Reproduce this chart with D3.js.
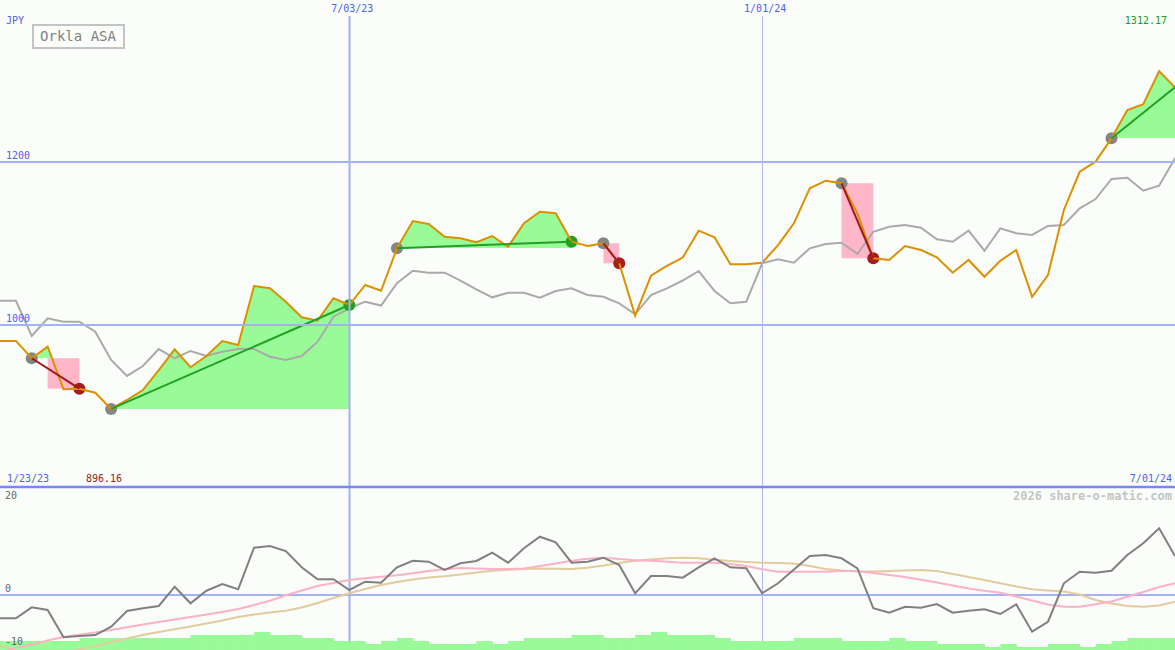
<!DOCTYPE html>
<html><head><meta charset="utf-8">
<script src="https://cdn.jsdelivr.net/npm/d3@7"></script>
<style>html,body{margin:0;padding:0;background:#fbfdfa;} svg{display:block;}</style>
</head><body><svg id="c" width="1175" height="650"></svg>
<script>
const dates = ["2023-01-30","2023-02-06","2023-02-13","2023-02-20","2023-02-27","2023-03-06","2023-03-13","2023-03-20","2023-03-27","2023-04-03","2023-04-10","2023-04-17","2023-04-24","2023-05-01","2023-05-08","2023-05-15","2023-05-22","2023-05-29","2023-06-05","2023-06-12","2023-06-19","2023-06-26","2023-07-03","2023-07-10","2023-07-17","2023-07-24","2023-07-31","2023-08-07","2023-08-14","2023-08-21","2023-08-28","2023-09-04","2023-09-11","2023-09-18","2023-09-25","2023-10-02","2023-10-09","2023-10-16","2023-10-23","2023-10-30","2023-11-06","2023-11-13","2023-11-20","2023-11-27","2023-12-04","2023-12-11","2023-12-18","2023-12-25","2024-01-01","2024-01-08","2024-01-15","2024-01-22","2024-01-29","2024-02-05","2024-02-12","2024-02-19","2024-02-26","2024-03-04","2024-03-11","2024-03-18","2024-03-25","2024-04-01","2024-04-08","2024-04-15","2024-04-22","2024-04-29","2024-05-06","2024-05-13","2024-05-20","2024-05-27","2024-06-03","2024-06-10","2024-06-17","2024-06-24","2024-07-01"];
const price = [980,980,958.6,972.9,920.4,921.1,916.2,896.16,907.2,919.5,944.1,969.6,947.5,961.4,979.9,974.9,1047.6,1044.8,1028.3,1009.1,1004.9,1032.5,1024.2,1048.9,1041.8,1094.1,1127.7,1124,1108.4,1106.4,1101.5,1109.2,1096,1124.9,1139.2,1137.2,1102.2,1096.9,1100.2,1075.6,1011,1060.3,1072.3,1082.7,1115.8,1107.6,1074.4,1074.4,1076.2,1098.1,1124.9,1168,1177.4,1174.2,1137.2,1081.8,1079.7,1096.9,1092,1083,1064,1079.7,1059.1,1078.8,1092,1034.4,1061.2,1141.3,1188.4,1200.8,1229.6,1264.5,1271.5,1312.17,1292.4];
const compare = [1029.5,1029.5,986,1007.8,1003.7,1003.7,991.3,956.5,936.8,949.1,970,958.6,967.6,961.4,966.7,970,970,960.5,956.5,961.4,979,1009.8,1020.2,1028.3,1023.6,1051,1066.5,1064,1064,1054.2,1043.6,1033.7,1039.4,1039.4,1033.2,1041.5,1044.8,1036.5,1034.4,1026.3,1012.8,1036.5,1044.8,1054.4,1066.1,1041.5,1026.3,1028.3,1075.6,1080.5,1076.3,1094.1,1099.4,1101,1087.1,1114.5,1120.7,1122.8,1119.5,1105.2,1102.2,1115.8,1091.1,1118.7,1112.6,1110.5,1121.6,1122.8,1143.4,1154.8,1179.5,1181.1,1165,1171.2,1205];
const momentum = [-4.92,-4.92,-2.63,-3.19,-8.88,-8.6,-8.4,-6.67,-3.4,-2.83,-2.35,1.67,-1.79,0.83,2.23,1.13,9.79,10.15,9.1,5.71,3.21,3.21,0.98,2.71,2.5,5.71,7.08,6.88,5.15,6.54,7.02,8.75,6.67,9.67,12.08,10.92,6.67,6.88,7.71,6.19,0.29,3.9,3.9,3.54,5.71,7.58,5.71,5.5,0.29,2.38,5.27,8.06,8.27,7.58,5.5,-2.83,-3.75,-2.5,-2.71,-1.94,-3.75,-3.33,-3.04,-4.02,-2,-7.71,-5.63,2.38,4.79,4.58,5,8.27,10.71,13.83,8.06];
const signalPink = [-12.2,-11.1,-10.38,-9.54,-8.81,-8.33,-7.85,-7.35,-6.79,-6.23,-5.69,-5.17,-4.65,-4.13,-3.6,-2.98,-2.15,-1.25,-0.13,0.88,1.81,2.44,3.06,3.42,3.75,4.04,4.46,4.94,5.29,5.56,5.46,5.35,5.35,5.46,5.98,6.5,7.08,7.5,7.71,7.44,7.19,7.08,6.88,6.67,6.67,6.67,6.4,5.98,5.31,4.79,4.79,4.79,4.79,4.94,4.94,4.52,4.1,3.69,3.13,2.54,1.92,1.29,0.83,0.42,-0.38,-1.21,-2.04,-2.5,-2.5,-2,-1.42,-0.44,0.56,1.6,2.38];
const signalTan = [-10.58,-11.73,-12.15,-12.15,-11.94,-11.42,-10.69,-9.85,-9.13,-8.4,-7.77,-7.21,-6.63,-6,-5.38,-4.65,-4.13,-3.71,-3.33,-2.67,-1.73,-0.69,0.29,1.19,2.02,2.65,3.17,3.58,3.83,4.21,4.63,4.98,5.19,5.35,5.46,5.4,5.35,5.6,6.08,6.6,7.08,7.33,7.58,7.69,7.58,7.27,7.02,6.81,6.67,6.6,6.5,5.98,5.35,5.04,4.83,4.83,4.94,5.04,5.15,4.94,4.31,3.69,3.06,2.38,1.71,1.15,0.88,0.67,0.04,-1.1,-1.83,-2.35,-2.5,-2.25,-1.46];
const volume = [3,3,3,3,3,4,4,4,4,4,4,4,5,5,5,5,6,5,5,4,4,3,3,2,3,4,3,2,2,2,3,2,3,4,4,4,5,5,4,4,5,6,5,5,5,4,3,3,3,3,4,4,4,3,3,3,4,3,3,2,2,2,1,2,1,1,2,2,1,2,3,4,4,4,4];
// trades: entry index, exit index, index where the loss box starts, outcome
const tradeEntry = [2, 7, 25, 38, 53, 70];
const tradeExit = [5, 22, 36, 39, 55, 74];
const tradeLossFrom = [3, null, null, 38, 53, null];
const tradeOutcome = ["loss", "win", "win", "loss", "loss", "open"];
const priceTicks = [1000, 1200];
const dateTicks = ["2023-07-03", "2024-01-01"];
const dateTickLabels = ["7/03/23", "1/01/24"];
const lowerTicks = [20, 0, -10];
const title = "Orkla ASA";
const currency = "JPY";
const startLabel = "1/23/23", endLabel = "7/01/24";
const minLabel = "896.16", maxLabel = "1312.17";

const W = 1175, H = 650, MAINB = 487;
const parse = d3.utcParse("%Y-%m-%d");
const D = dates.map(parse);
const x = d3.scaleUtc().domain([D[0], D[D.length - 1]]).range([0, W]);
const y = d3.scaleLinear().domain([800, 1400]).range([MAINB, 0]);
const yl = d3.scaleLinear().domain([-10, 20]).range([642.7, 498.7]);
const yv = d3.scaleLinear().domain([0, 6]).range([H, 632]);

const svg = d3.select("#c");
const font = "'DejaVu Sans Mono', 'Liberation Mono', monospace";
const gridCol = "#a4b2f2";
svg.append("rect").attr("width", W).attr("height", H).attr("fill", "#fbfdfa");

const defs = svg.append("defs");
defs.append("clipPath").attr("id", "mainClip").append("rect").attr("x", 0).attr("y", 0).attr("width", W).attr("height", MAINB);
defs.append("clipPath").attr("id", "lowClip").append("rect").attr("x", 0).attr("y", MAINB + 2).attr("width", W).attr("height", H - MAINB - 2);

const idx = d3.range(dates.length);
const main = svg.append("g").attr("clip-path", "url(#mainClip)");

// green fills: price above entry level, between entry and exit
tradeEntry.forEach((e, k) => {
  const xe = tradeExit[k];
  const lvl = price[e];
  const cid = "tclip" + k;
  defs.append("clipPath").attr("id", cid).append("rect")
    .attr("x", x(D[e])).attr("y", 0).attr("width", x(D[xe]) - x(D[e])).attr("height", y(lvl));
  const seg = d3.range(e, xe + 1);
  main.append("path").datum(seg)
    .attr("clip-path", "url(#" + cid + ")")
    .attr("fill", "#98fb98")
    .attr("d", d3.area().x(i => x(D[i])).y0(y(lvl)).y1(i => y(price[i])));
});
// pink loss boxes
tradeEntry.forEach((e, k) => {
  if (tradeOutcome[k] !== "loss") return;
  const a = tradeLossFrom[k], b = tradeExit[k];
  main.append("rect")
    .attr("x", x(D[a])).attr("width", x(D[b]) - x(D[a]))
    .attr("y", y(price[e])).attr("height", y(price[b]) - y(price[e]))
    .attr("fill", "#ffb6c8");
});

// horizontal price grid
svg.selectAll(".hg").data(priceTicks).join("line")
  .attr("x1", 0).attr("x2", W).attr("y1", d => Math.round(y(d))).attr("y2", d => Math.round(y(d)))
  .attr("stroke", gridCol).attr("stroke-width", 2);
// vertical date grid
svg.selectAll(".vg").data(dateTicks).join("line")
  .attr("x1", d => Math.round(x(parse(d))) + 0.5).attr("x2", d => Math.round(x(parse(d))) + 0.5)
  .attr("y1", 16).attr("y2", H)
  .attr("stroke", (d, i) => i === 0 ? gridCol : "#b0b8ea")
  .attr("stroke-width", (d, i) => i === 0 ? 2 : 1);

// lower panel
const low = svg.append("g").attr("clip-path", "url(#lowClip)");
low.selectAll("rect").data(idx).join("rect")
  .attr("x", i => x(D[i]))
  .attr("width", i => (i < D.length - 1 ? x(D[i + 1]) - x(D[i]) : x(D[i]) - x(D[i - 1])) + 0.5)
  .attr("y", i => yv(volume[i])).attr("height", i => H - yv(volume[i]))
  .attr("fill", "#98fb98");
low.append("line").attr("x1", 0).attr("x2", W).attr("y1", Math.round(yl(0))).attr("y2", Math.round(yl(0)))
  .attr("stroke", gridCol).attr("stroke-width", 2);
const lowLine = arr => d3.line().x(i => x(D[i])).y(i => yl(arr[i]))(idx);
low.append("path").attr("d", lowLine(signalTan)).attr("fill", "none").attr("stroke", "#e2cb9c").attr("stroke-width", 2);
low.append("path").attr("d", lowLine(signalPink)).attr("fill", "none").attr("stroke", "#fbb2c6").attr("stroke-width", 2);
low.append("path").attr("d", lowLine(momentum)).attr("fill", "none").attr("stroke", "#808080").attr("stroke-width", 2);

// main lines
const mainLine = arr => d3.line().x(i => x(D[i])).y(i => y(arr[i]))(idx);
main.append("path").attr("d", mainLine(compare)).attr("fill", "none").attr("stroke", "#aaaaaa").attr("stroke-width", 2);

// markers
tradeEntry.forEach((e, k) => {
  main.append("circle").attr("cx", x(D[e])).attr("cy", y(price[e])).attr("r", 6).attr("fill", "#858585");
  if (tradeOutcome[k] !== "open") {
    const xe = tradeExit[k];
    main.append("circle").attr("cx", x(D[xe])).attr("cy", y(price[xe])).attr("r", 6)
      .attr("fill", tradeOutcome[k] === "win" ? "#22a022" : "#a61c1c");
  }
});
main.append("path").attr("d", mainLine(price)).attr("fill", "none").attr("stroke", "#dc9000").attr("stroke-width", 2);
// trade lines
tradeEntry.forEach((e, k) => {
  const xe = tradeExit[k];
  main.append("line")
    .attr("x1", x(D[e])).attr("y1", y(price[e])).attr("x2", x(D[xe])).attr("y2", y(price[xe]))
    .attr("stroke", tradeOutcome[k] === "loss" ? "#a01818" : "#22a022").attr("stroke-width", 2);
});

// bottom border of main panel
svg.append("line").attr("x1", 0).attr("x2", W).attr("y1", MAINB).attr("y2", MAINB)
  .attr("stroke", "#7888f0").attr("stroke-width", 2.5);

// texts
const txt = (s, tx, ty, col, anchor, size, weight) => svg.append("text")
  .attr("x", tx).attr("y", ty).attr("fill", col).attr("text-anchor", anchor || "start")
  .attr("dominant-baseline", "middle").attr("font-family", font)
  .attr("font-size", size || 10).attr("font-weight", weight || "normal").text(s);

txt(currency, 6, 21, "#5060f0");
svg.selectAll(".pl").data(priceTicks).join("text")
  .attr("x", 6).attr("y", d => y(d) - 6).attr("fill", "#5060f0")
  .attr("dominant-baseline", "middle").attr("font-family", font).attr("font-size", 10).text(d => d);
svg.selectAll(".dl").data(dateTicks).join("text")
  .attr("x", d => x(parse(d)) + 3).attr("y", 9).attr("fill", "#5060f0").attr("text-anchor", "middle")
  .attr("dominant-baseline", "middle").attr("font-family", font).attr("font-size", 10)
  .text((d, i) => dateTickLabels[i]);
txt(startLabel, 7, 479, "#5060f0");
txt(minLabel, 86, 479, "#a01818");
txt(endLabel, 1172, 479, "#5060f0", "end");
txt(maxLabel, 1167, 21, "#229922", "end");
svg.selectAll(".ll").data(lowerTicks).join("text")
  .attr("x", 5).attr("y", d => d === 20 ? 496 : (d === 0 ? yl(d) - 6 : 642))
  .attr("fill", "#666666").attr("dominant-baseline", "middle")
  .attr("font-family", font).attr("font-size", 10).text(d => d);
txt("2026 share-o-matic.com", 1172, 496, "#c4c4c4", "end", 12, "bold");

// legend box
svg.append("rect").attr("x", 33).attr("y", 25).attr("width", 91).attr("height", 23)
  .attr("fill", "#fbfdfa").attr("stroke", "#c4c4c4").attr("stroke-width", 2);
txt(title, 78, 37, "#808080", "middle", 14);
</script></body></html>
